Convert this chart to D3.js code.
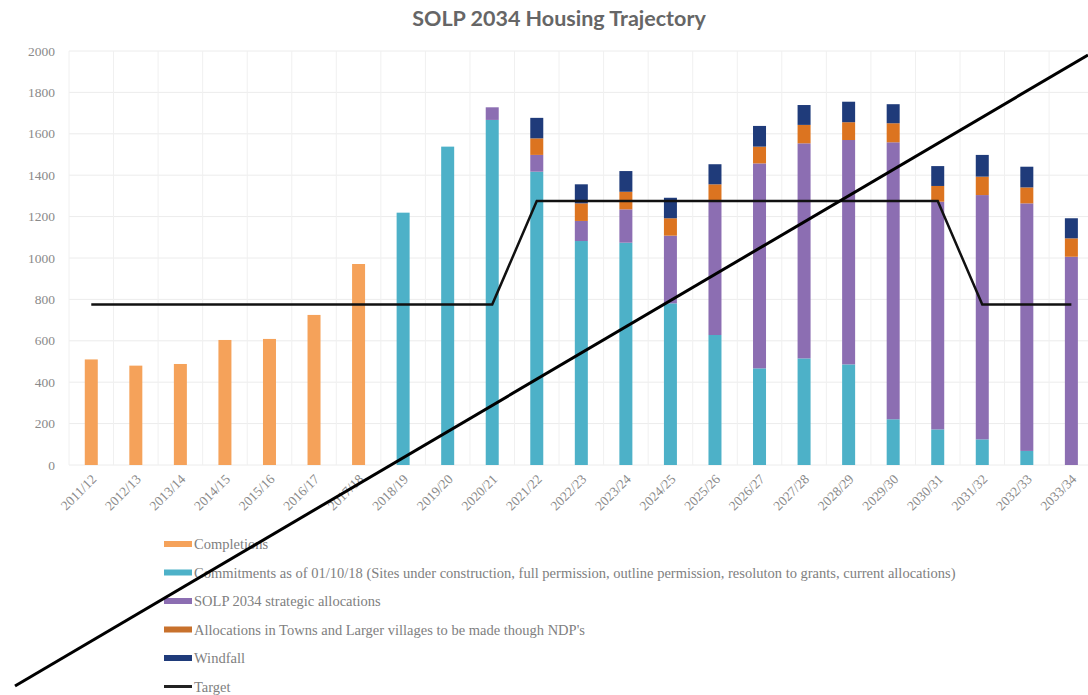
<!DOCTYPE html>
<html>
<head>
<meta charset="utf-8">
<script src="https://cdn.jsdelivr.net/npm/d3@7"></script>
<style>
  body { margin: 0; background: #fff; }
  svg { display: block; }
</style>
</head>
<body>
<svg id="chart"></svg>
<script>
const years = ["2011/12", "2012/13", "2013/14", "2014/15", "2015/16", "2016/17", "2017/18", "2018/19",
  "2019/20", "2020/21", "2021/22", "2022/23", "2023/24", "2024/25", "2025/26", "2026/27", "2027/28",
  "2028/29", "2029/30", "2030/31", "2031/32", "2032/33", "2033/34"];

const completions = [510, 480, 488, 604, 609, 725, 971, 0, 0, 0, 0, 0, 0, 0, 0, 0, 0, 0, 0, 0, 0, 0, 0];
const commitments = [0, 0, 0, 0, 0, 0, 0, 1219, 1538, 1667, 1417, 1082, 1074, 781, 628, 467, 515, 486, 221, 172, 124, 68, 0];
const strategic = [0, 0, 0, 0, 0, 0, 0, 0, 0, 61, 81, 97, 161, 327, 652, 990, 1039, 1084, 1338, 1100, 1180, 1196, 1006];
const ndpAllocations = [0, 0, 0, 0, 0, 0, 0, 0, 0, 0, 80, 85, 85, 84, 76, 81, 89, 86, 92, 76, 89, 77, 89];
const windfall = [0, 0, 0, 0, 0, 0, 0, 0, 0, 0, 99, 92, 100, 99, 97, 100, 96, 99, 92, 96, 105, 100, 97];
const target = [775, 775, 775, 775, 775, 775, 775, 775, 775, 775, 1275, 1275, 1275, 1275, 1275, 1275, 1275, 1275, 1275, 1275, 775, 775, 775];

const yTicks = [0, 200, 400, 600, 800, 1000, 1200, 1400, 1600, 1800, 2000];

const seriesKeys = ["completions", "commitments", "strategic", "ndp", "windfall"];
const seriesNames = [
  "Completions",
  "Commitments as of 01/10/18 (Sites under construction, full permission, outline permission, resoluton to grants, current allocations)",
  "SOLP 2034 strategic allocations",
  "Allocations in Towns and Larger villages to be made though NDP's",
  "Windfall"
];
const colors = ["#F5A25A", "#4DB1C8", "#8C6EB2", "#DC7420", "#1F3B7A"];
const legendColors = ["#F5A25A", "#4DB1C8", "#8C6EB2", "#C8712C", "#1F3B7A"];

const width = 1088, height = 695;
const margin = { top: 51, left: 69, bottom: 230 };
const plotBottom = height - margin.bottom; // 465

const svg = d3.select("#chart").attr("width", width).attr("height", height);

const x = d3.scaleBand()
  .domain(years)
  .range([margin.left, margin.left + 44.55 * years.length])
  .padding(0);

const y = d3.scaleLinear()
  .domain([0, 2000])
  .range([plotBottom, margin.top]);

// grid
svg.append("g")
  .selectAll("line")
  .data(yTicks)
  .enter().append("line")
  .attr("x1", margin.left).attr("x2", width)
  .attr("y1", d => y(d)).attr("y2", d => y(d))
  .attr("stroke", "#ececec").attr("stroke-width", 1);

svg.append("g")
  .selectAll("line")
  .data(years)
  .enter().append("line")
  .attr("x1", d => x(d)).attr("x2", d => x(d))
  .attr("y1", y(2000)).attr("y2", plotBottom)
  .attr("stroke", "#f0f0f0").attr("stroke-width", 1);

// y tick labels
svg.append("g")
  .selectAll("text")
  .data(yTicks)
  .enter().append("text")
  .attr("x", 55)
  .attr("y", d => y(d) + 4.5)
  .attr("text-anchor", "end")
  .style("font-family", "'Liberation Serif', serif")
  .style("font-size", "13.5px")
  .style("fill", "#8a8a8a")
  .text(d => d);

// x tick labels
svg.append("g")
  .selectAll("text")
  .data(years)
  .enter().append("text")
  .attr("transform", d => `translate(${x(d) + x.bandwidth() / 2 + 6}, ${plotBottom + 15}) rotate(-45)`)
  .attr("text-anchor", "end")
  .style("font-family", "'Liberation Serif', serif")
  .style("font-size", "13.5px")
  .style("fill", "#8a8a8a")
  .text(d => d);

// stacked bars
const table = years.map((yr, i) => ({
  year: yr,
  completions: completions[i],
  commitments: commitments[i],
  strategic: strategic[i],
  ndp: ndpAllocations[i],
  windfall: windfall[i]
}));

const stacked = d3.stack().keys(seriesKeys)(table);
const barW = 13;

svg.append("g")
  .selectAll("g")
  .data(stacked)
  .enter().append("g")
  .attr("fill", (d, i) => colors[i])
  .selectAll("rect")
  .data(d => d.filter(p => p[1] - p[0] > 0))
  .enter().append("rect")
  .attr("x", d => x(d.data.year) + x.bandwidth() / 2 - barW / 2)
  .attr("y", d => y(d[1]))
  .attr("width", barW)
  .attr("height", d => y(d[0]) - y(d[1]));

// target line
const line = d3.line()
  .x((d, i) => x(years[i]) + x.bandwidth() / 2)
  .y(d => y(d));

svg.append("path")
  .datum(target)
  .attr("d", line)
  .attr("fill", "none")
  .attr("stroke", "#111")
  .attr("stroke-width", 2.5);

// title
svg.append("text")
  .attr("x", 559)
  .attr("y", 26)
  .attr("text-anchor", "middle")
  .style("font-family", "Lato, 'Open Sans', sans-serif")
  .style("font-weight", "bold")
  .style("font-size", "21.5px")
  .style("fill", "#666")
  .text("SOLP 2034 Housing Trajectory");

// legend
const legend = svg.append("g");
const legendItems = seriesNames.map((n, i) => ({ name: n, color: legendColors[i], isLine: false }))
  .concat([{ name: "Target", color: "#222", isLine: true }]);

const rows = legend.selectAll("g")
  .data(legendItems)
  .enter().append("g")
  .attr("transform", (d, i) => `translate(164, ${544 + i * 28.5})`);

rows.append("rect")
  .attr("x", 0)
  .attr("y", d => d.isLine ? -1.5 : -3)
  .attr("width", 28)
  .attr("height", d => d.isLine ? 3 : 6)
  .attr("fill", d => d.color);

rows.append("text")
  .attr("x", 30)
  .attr("y", 5)
  .style("font-family", "'Liberation Serif', serif")
  .style("font-size", "14.5px")
  .style("fill", "#808080")
  .text(d => d.name);

// diagonal strike across the picture
svg.append("line")
  .attr("x1", 15).attr("y1", 686)
  .attr("x2", width).attr("y2", 55)
  .attr("stroke", "#000")
  .attr("stroke-width", 3);
</script>
</body>
</html>
